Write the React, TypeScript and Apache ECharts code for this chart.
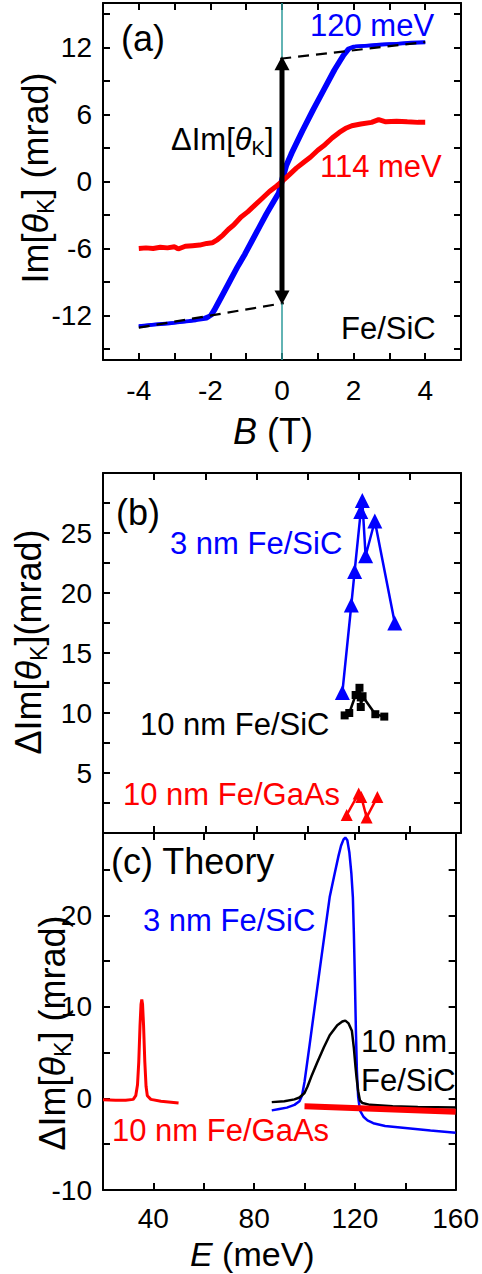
import React, { useEffect, useRef } from 'react';
import * as echarts from 'echarts';

const FONT = '"Liberation Sans", Arial, Helvetica, sans-serif';
const BLUE = '#0000ff';
const RED = '#ff0000';
const TEAL = '#2e9b9b';

// ---------- Panel (a): Im[theta_K] vs B ----------
const aXTicks = [-5, -4, -3, -2, -1, 0, 1, 2, 3, 4, 5];
const aXLabels = [-4, -2, 0, 2, 4];
const aYTicks = [-15, -12, -9, -6, -3, 0, 3, 6, 9, 12, 15];
const aYLabels = [-12, -6, 0, 6, 12];

const aBlueUp = [
  [-4.0, -13.0], [-3.6, -12.85], [-3.2, -12.75], [-2.8, -12.6], [-2.4, -12.45], [-2.1, -12.3],
  [-1.95, -12.0], [-1.85, -11.5], [-1.75, -10.9], [-1.6, -10.0], [-1.4, -8.8], [-1.2, -7.6],
  [-1.0, -6.5], [-0.8, -5.3], [-0.6, -4.1], [-0.4, -2.9], [-0.2, -1.8], [-0.05, -1.0],
  [0.05, 0.3], [0.15, 1.4], [0.3, 2.5], [0.6, 4.5], [0.9, 6.4], [1.2, 8.2], [1.5, 10.0],
  [1.75, 11.3], [1.9, 11.9], [2.05, 12.1], [2.4, 12.2], [2.8, 12.3], [3.2, 12.35], [3.6, 12.45], [4.0, 12.5],
];
const aBlueDown = [
  [4.0, 12.45], [3.5, 12.4], [3.0, 12.3], [2.5, 12.2], [2.0, 12.1], [1.83, 11.9], [1.68, 11.3],
  [1.43, 10.0], [1.13, 8.2], [0.83, 6.4], [0.53, 4.5], [0.23, 2.5], [0.08, 1.4], [-0.02, 0.3],
  [-0.12, -1.0], [-0.27, -1.8], [-0.47, -2.9], [-0.67, -4.1], [-0.87, -5.3], [-1.07, -6.5],
  [-1.27, -7.6], [-1.47, -8.8], [-1.67, -10.0], [-1.82, -10.9], [-1.92, -11.5], [-2.02, -12.0],
  [-2.2, -12.25], [-2.6, -12.5], [-3.0, -12.65], [-3.5, -12.8], [-4.0, -12.95],
];
const aRed = [
  [-4.0, -6.0], [-3.8, -5.95], [-3.6, -6.0], [-3.4, -5.9], [-3.2, -5.95], [-3.0, -5.85], [-2.9, -6.05],
  [-2.7, -5.8], [-2.5, -5.75], [-2.3, -5.7], [-2.1, -5.55], [-1.95, -5.5], [-1.8, -5.2], [-1.65, -4.8],
  [-1.5, -4.3], [-1.35, -3.9], [-1.15, -3.2], [-0.95, -2.7], [-0.75, -2.1], [-0.55, -1.5], [-0.35, -0.9],
  [-0.15, -0.4], [0.0, 0.0], [0.2, 0.6], [0.4, 1.2], [0.6, 1.7], [0.8, 2.2], [1.0, 2.8], [1.2, 3.3],
  [1.4, 3.9], [1.6, 4.4], [1.8, 4.8], [1.95, 5.0], [2.2, 5.15], [2.5, 5.3], [2.7, 5.55], [2.9, 5.35],
  [3.2, 5.4], [3.5, 5.35], [3.8, 5.3], [4.0, 5.3],
];
const aFitLow = [[-4.0, -13.1], [0.05, -10.9]];
const aFitHigh = [[-0.05, 11.0], [4.0, 12.5]];
const aArrowEnds = [-10.4, 10.6];
const aZeroLine = 0;

// ---------- Panel (b): measured Delta Im[theta_K] vs E ----------
const eTicks = [40, 60, 80, 100, 120, 140];
const bYTicks = [2.5, 5, 7.5, 10, 12.5, 15, 17.5, 20, 22.5, 25, 27.5];
const bYLabels = [5, 10, 15, 20, 25];

const b3nmSiC = [
  [113.6, 11.7], [117.1, 19.0], [118.4, 21.8], [120.8, 26.8], [121.4, 27.7],
  [122.7, 23.1], [126.3, 26.0], [134.1, 17.5],
];
const b10nmSiC = [
  [114.5, 9.8], [116.3, 10.0], [118.8, 11.5], [120.3, 12.1], [120.8, 11.3],
  [120.8, 10.5], [121.5, 11.4], [126.5, 9.9], [130.0, 9.7],
];
const b10nmGaAs = [
  [115.3, 1.5], [120.0, 3.3], [121.0, 3.0], [123.1, 1.3], [127.3, 3.0],
];

// ---------- Panel (c): theory ----------
const cXLabels = [40, 80, 120, 160];
const cYTicks = [-5, 0, 5, 10, 15, 20, 25];
const cYLabels = [-10, 0, 10, 20];

const c3nmSiC = [
  [87, -1.3], [90, -1.15], [93, -1.0], [96, -0.7], [98, -0.3], [99, 0.3], [100, 1.8],
  [102, 5.8], [104, 9.9], [106, 14.0], [108, 18.0], [110, 22.0], [112, 24.6], [113.5, 26.5],
  [114.5, 27.6], [115.5, 28.3], [116.2, 28.5], [117, 28.2], [117.8, 26.9], [118.6, 24.6],
  [119.2, 22.0], [119.6, 18.0], [120.0, 13.0], [120.4, 7.5], [120.8, 3.0], [121.3, 0.2],
  [122.0, -1.3], [123.4, -2.0], [125, -2.4], [127.3, -2.7], [132, -3.0], [143, -3.3],
  [150, -3.5], [160, -3.75],
];
const c10nmSiC = [
  [87, -0.4], [92, -0.3], [96, -0.1], [98, 0.1], [100, 0.6], [101.2, 1.3], [103, 2.6],
  [105, 3.9], [107.7, 5.6], [110, 6.9], [113, 8.0], [115, 8.4], [116.2, 8.5], [117.5, 8.2],
  [118.8, 7.4], [119.6, 5.5], [120.2, 3.6], [120.7, 2.2], [121.3, 0.8], [122.0, -0.2],
  [123.0, -0.5], [126, -0.7], [135, -0.85], [145, -0.92], [160, -1.0],
];
const c10nmGaAsPeak = [
  [20, -0.15], [25, -0.2], [29, -0.2], [32, -0.1], [33, 0.3], [33.7, 1.5], [34.2, 4.0],
  [34.7, 8.0], [35.1, 10.3], [35.4, 10.8], [35.7, 10.3], [36.1, 8.0], [36.6, 4.0],
  [37.1, 1.3], [37.6, 0.3], [39, -0.1], [43, -0.3], [50, -0.5],
];
const c10nmGaAsHigh = [[100, -0.85], [160, -1.45]];

// ---------- helpers ----------
const axisLine = { show: true, onZero: false, lineStyle: { color: '#000', width: 2 } };
const tick = (vals: number[]) => ({
  show: true, inside: true, length: 7, customValues: vals,
  lineStyle: { color: '#000', width: 2 },
});
const label = (vals: number[] | null, margin: number) =>
  vals
    ? { show: true, customValues: vals, fontSize: 28, lineHeight: 28, color: '#000', fontFamily: FONT, margin }
    : { show: false };

const nameRich = (size: number, sub: number, pad: number, lh?: number) => ({
  n: { fontSize: size, fontFamily: FONT, color: '#000', lineHeight: lh },
  i: { fontSize: size, fontFamily: FONT, fontStyle: 'italic', color: '#000', lineHeight: lh },
  s: { fontSize: sub, fontFamily: FONT, color: '#000', padding: [pad, 0, 0, 0] },
});

function xAxis(grid: number, min: number, max: number, ticks: number[], labels: number[] | null, pos: string, extra: any = {}, margin = 16) {
  return {
    type: 'value', gridIndex: grid, min, max, position: pos,
    axisLine, axisTick: tick(ticks), axisLabel: label(labels, margin), splitLine: { show: false },
    nameMoveOverlap: false,
    ...extra,
  };
}
function yAxis(grid: number, min: number, max: number, ticks: number[], labels: number[] | null, pos: string, extra: any = {}) {
  return {
    type: 'value', gridIndex: grid, min, max, position: pos,
    axisLine, axisTick: tick(ticks), axisLabel: label(labels, 11), splitLine: { show: false },
    nameMoveOverlap: false,
    ...extra,
  };
}

const txt = (x: number, y: number, text: string, size: number, fill: string, rich?: any) => ({
  type: 'text', x, y, silent: true,
  style: { text, fontSize: size, fontFamily: FONT, fill, align: 'left', verticalAlign: 'middle', rich },
});

export default function App() {
  const ref = useRef<HTMLDivElement>(null);
  useEffect(() => {
    if (!ref.current) return;
    const chart = echarts.init(ref.current, null, { renderer: 'svg' });
    const line = (xi: number, data: number[][], color: string, width: number, extra: any = {}) => ({
      type: 'line', xAxisIndex: xi, yAxisIndex: xi, data, showSymbol: false, symbol: 'none',
      lineStyle: { color, width }, itemStyle: { color }, silent: true, ...extra,
    });
    const option: any = {
      animation: false,
      backgroundColor: '#fff',
      grid: [
        { left: 103, top: 3, width: 358, height: 357 },
        { left: 103, top: 473, width: 358, height: 360 },
        { left: 103, top: 833, width: 358, height: 357 },
      ],
      xAxis: [
        xAxis(0, -5, 5, aXTicks, aXLabels, 'bottom', {
          name: '{i|B}{n| (T)}', nameLocation: 'middle', nameGap: 57,
          nameTextStyle: { fontSize: 36, lineHeight: 28, fontFamily: FONT, color: '#000', padding: [0, 18, 0, 0], rich: nameRich(36, 24, 0, 28) },
        }),
        xAxis(1, 20, 160, eTicks, null, 'bottom'),
        xAxis(2, 20, 160, eTicks, cXLabels, 'bottom', {
          name: '{i|E}{n| (meV)}', nameLocation: 'middle', nameGap: 50,
          nameTextStyle: { fontSize: 34, lineHeight: 28, fontFamily: FONT, color: '#000', padding: [0, 54, 0, 0], rich: nameRich(34, 24, 0, 28) },
        }, 14),
        xAxis(0, -5, 5, aXTicks, null, 'top'),
        xAxis(1, 20, 160, eTicks, null, 'top'),
        xAxis(2, 20, 160, eTicks, null, 'top'),
      ],
      yAxis: [
        yAxis(0, -16, 16, aYTicks, aYLabels, 'left', {
          name: '{n|Im[}{i|θ}{s|K}{n|] (mrad)}', nameLocation: 'middle', nameGap: 46,
          nameTextStyle: { fontSize: 36, fontFamily: FONT, color: '#000', padding: [0, 0, 0, 7], rich: nameRich(36, 23, 20) },
        }),
        yAxis(1, 0, 30, bYTicks, bYLabels, 'left', {
          name: '{n|ΔIm[}{i|θ}{s|K}{n|](mrad)}', nameLocation: 'middle', nameGap: 53,
          nameTextStyle: { fontSize: 36, fontFamily: FONT, color: '#000', padding: [0, 0, 0, 22], rich: nameRich(36, 23, 20) },
        }),
        yAxis(2, -10, 29, cYTicks, cYLabels, 'left', {
          name: '{n|ΔIm[}{i|θ}{s|K}{n|] (mrad)}', nameLocation: 'middle', nameGap: 29,
          nameTextStyle: { fontSize: 36, fontFamily: FONT, color: '#000', padding: [0, 43, 0, 0], rich: nameRich(36, 23, 20) },
        }),
        yAxis(0, -16, 16, aYTicks, null, 'right'),
        yAxis(1, 0, 30, bYTicks, null, 'right'),
        yAxis(2, -10, 29, cYTicks, null, 'right'),
      ],
      series: [
        // panel (a)
        {
          type: 'line', xAxisIndex: 0, yAxisIndex: 0, data: [], silent: true, z: 1,
          markLine: {
            silent: true, symbol: 'none', label: { show: false },
            lineStyle: { color: TEAL, width: 1.5, type: 'solid' },
            data: [{ xAxis: aZeroLine }],
          },
        },
        line(0, aBlueUp, BLUE, 3.5, { z: 2 }),
        line(0, aBlueDown, BLUE, 3.5, { z: 2 }),
        line(0, aRed, RED, 5, { z: 3 }),
        line(0, aFitLow, '#000', 2.2, { z: 4, lineStyle: { color: '#000', width: 2.2, type: [11, 7] } }),
        line(0, aFitHigh, '#000', 2.2, { z: 4, lineStyle: { color: '#000', width: 2.2, type: [11, 7] } }),
        {
          type: 'line', xAxisIndex: 0, yAxisIndex: 0, silent: true, z: 5,
          data: [
            { value: [0, aArrowEnds[0]], symbolRotate: 180 },
            { value: [0, aArrowEnds[1]], symbolRotate: 0 },
          ],
          showSymbol: true, symbol: 'triangle', symbolSize: [15, 14],
          lineStyle: { color: '#000', width: 5 }, itemStyle: { color: '#000' },
        },
        // panel (b)
        line(1, b3nmSiC, BLUE, 2.5, { showSymbol: true, symbol: 'triangle', symbolSize: 15, z: 3 }),
        line(1, b10nmSiC, '#000', 2.5, { showSymbol: true, symbol: 'rect', symbolSize: 8, z: 4 }),
        line(1, b10nmGaAs, RED, 2.5, { showSymbol: true, symbol: 'triangle', symbolSize: 12, z: 4 }),
        // panel (c)
        line(2, c3nmSiC, BLUE, 2.5, { z: 2 }),
        line(2, c10nmSiC, '#000', 2.5, { z: 3 }),
        line(2, c10nmGaAsHigh, RED, 6, { z: 4 }),
        line(2, c10nmGaAsPeak, RED, 3, { z: 4 }),
      ],
      graphic: [
        txt(121, 38, '(a)', 36, '#000'),
        txt(310, 25, '120 meV', 31, BLUE),
        txt(320, 166, '114 meV', 31, RED),
        txt(171, 139, '{n|ΔIm[}{i|θ}{s|K}{n|]}', 31, '#000', nameRich(31, 20, 18)),
        txt(341, 328, 'Fe/SiC', 31, '#000'),
        txt(116, 512, '(b)', 36, '#000'),
        txt(170, 543, '3 nm Fe/SiC', 31, BLUE),
        txt(140, 724, '10 nm Fe/SiC', 31, '#000'),
        txt(123, 794, '10 nm Fe/GaAs', 31, RED),
        txt(111, 861, '(c) Theory', 36, '#000'),
        txt(143, 920, '3 nm Fe/SiC', 31, BLUE),
        txt(361, 1041, '10 nm', 31, '#000'),
        txt(361, 1080, 'Fe/SiC', 31, '#000'),
        txt(112, 1130, '10 nm Fe/GaAs', 31, RED),
      ],
    };
    chart.setOption(option);
    return () => chart.dispose();
  }, []);
  return (
    <div
      ref={ref}
      style={{ position: 'absolute', left: 0, top: 0, width: 482, height: 1274, background: '#fff' }}
    />
  );
}
